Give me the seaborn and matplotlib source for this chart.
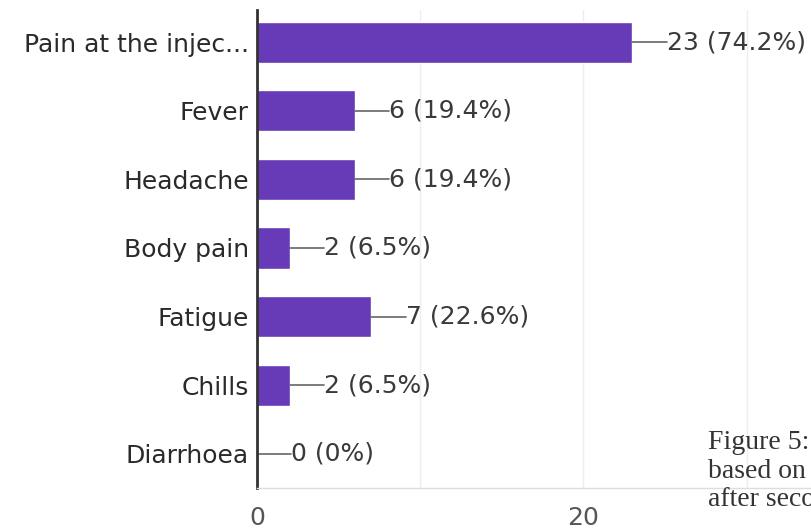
import matplotlib.pyplot as plt
import pandas as pd
import seaborn as sns

# data (Google Forms style bar chart)
symptoms = ["Pain at the injec...", "Fever", "Headache", "Body pain",
            "Fatigue", "Chills", "Diarrhoea"]
counts = [23, 6, 6, 2, 7, 2, 0]
percents = ["74.2%", "19.4%", "19.4%", "6.5%", "22.6%", "6.5%", "0%"]
x_ticks = [0, 10, 20, 30]
x_tick_labels = ["0", "", "20", ""]
caption = "Figure 5:\nbased on\nafter seco"

df = pd.DataFrame({"Symptom": symptoms, "Count": counts, "Pct": percents})

sns.set_theme(style="white")
plt.rcParams['font.family'] = ['DejaVu Sans']

fig = plt.figure(figsize=(8.12, 5.29), dpi=100)
ax = fig.add_axes([0.3165, 0.0775, 0.6835, 0.9035])

sns.barplot(data=df, x="Count", y="Symptom", orient="h", color="#673AB7",
            saturation=1, width=0.6, ax=ax)

ax.set_xlim(0, 34)
ax.set_ylim(6.5, -0.47)
ax.set_xticks(x_ticks)
ax.set_xticklabels(x_tick_labels)
ax.grid(axis="x", color="#eeeeee", linewidth=1)
ax.set_axisbelow(True)
ax.tick_params(axis="x", length=0, pad=13, labelsize=18, labelcolor="#555555")
ax.tick_params(axis="y", length=0, pad=6, labelsize=18, labelcolor="#2a2a2a")
ax.set_xlabel("")
ax.set_ylabel("")

for side in ["top", "right"]:
    ax.spines[side].set_visible(False)
ax.spines["left"].set_color("#333333")
ax.spines["left"].set_linewidth(2)
ax.spines["bottom"].set_color("#dddddd")
ax.spines["bottom"].set_linewidth(1)

# leader lines + value labels
for i, (c, p) in enumerate(zip(counts, percents)):
    ax.plot([c, c + 2.1], [i, i], color="#666666", linewidth=1.2)
    ax.text(c + 2.1, i, f"{c} ({p})", va="center", ha="left",
            fontsize=18, color="#3a3a3a")

# caption runs off the right edge, as in the source screenshot
fig.text(708 / 812, 1 - 471 / 529, caption, family=["Liberation Serif"],
         fontsize=20, color="#333333", va="center", ha="left",
         linespacing=1.2)

plt.savefig("out.png", dpi=100)
